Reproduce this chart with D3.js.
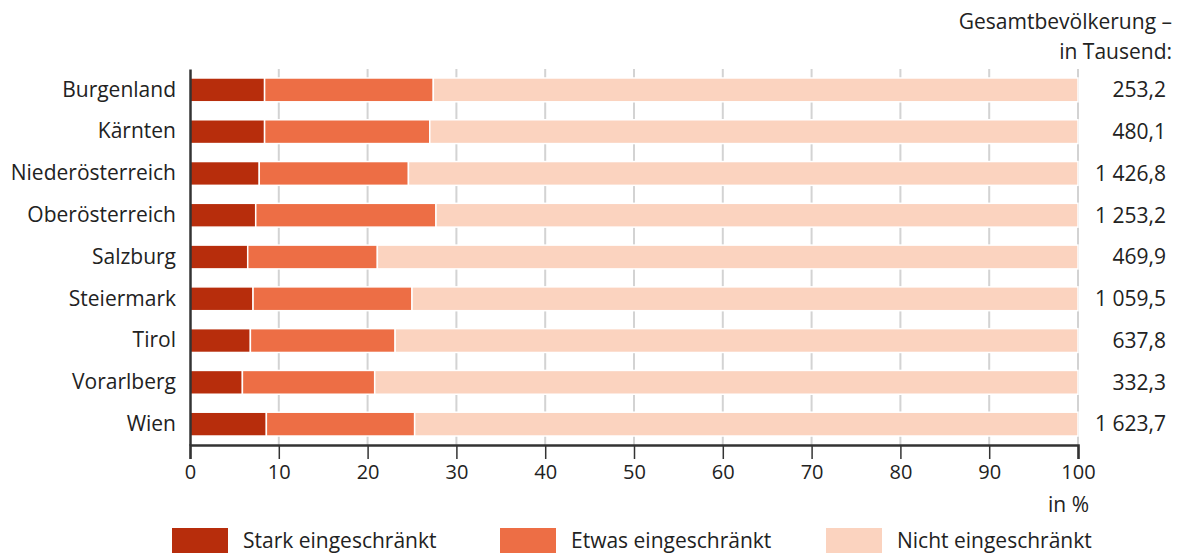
<!DOCTYPE html>
<html>
<head>
<meta charset="utf-8">
<script src="https://cdn.jsdelivr.net/npm/d3@7"></script>
<style>
  body { margin: 0; background: #fff; }
  text { font-family: "Open Sans", sans-serif; fill: #222; }
</style>
</head>
<body>
<div class="chart"></div>
<script>
const svgWidth = 1181;
const svgHeight = 555;
const fontSize = 21;

// data
const regions = ["Burgenland", "Kärnten", "Niederösterreich", "Oberösterreich",
  "Salzburg", "Steiermark", "Tirol", "Vorarlberg", "Wien"];
const stark = [8.4, 8.4, 7.8, 7.4, 6.5, 7.1, 6.8, 5.9, 8.6];
const etwas = [19.0, 18.6, 16.8, 20.3, 14.6, 17.9, 16.3, 14.9, 16.7];
const nicht = [72.6, 73.0, 75.4, 72.3, 78.9, 75.0, 76.9, 79.2, 74.7];
const population = ["253,2", "480,1", "1 426,8", "1 253,2", "469,9",
  "1 059,5", "637,8", "332,3", "1 623,7"];
const seriesNames = ["Stark eingeschränkt", "Etwas eingeschränkt", "Nicht eingeschränkt"];
const colors = ["#b72d0c", "#ed6e45", "#fbd3bf"];
const xTicks = [0, 10, 20, 30, 40, 50, 60, 70, 80, 90, 100];

const svg = d3.select(".chart")
  .append("svg")
  .attr("width", svgWidth)
  .attr("height", svgHeight);

// scales
const xScale = d3.scaleLinear()
  .domain([0, 100])
  .range([190, 1078]);

const yScale = d3.scaleBand()
  .domain(regions)
  .range([69, 445])
  .paddingInner(0.43)
  .paddingOuter(0.215);

// grid lines
svg.append("g")
  .selectAll("line")
  .data(xTicks.slice(1))
  .enter()
  .append("line")
  .attr("x1", d => xScale(d))
  .attr("x2", d => xScale(d))
  .attr("y1", 69)
  .attr("y2", 445)
  .attr("stroke", "#d3d3d3")
  .attr("stroke-width", 2);

// stacked bars
const rows = regions.map((r, i) => ({ region: r, values: [stark[i], etwas[i], nicht[i]] }));
const stack = d3.stack().keys([0, 1, 2]).value((d, k) => d.values[k]);
const stacked = stack(rows);

svg.append("g")
  .selectAll("g")
  .data(stacked)
  .enter()
  .append("g")
  .attr("fill", (d, i) => colors[i])
  .selectAll("rect")
  .data(d => d)
  .enter()
  .append("rect")
  .attr("x", d => xScale(d[0]))
  .attr("y", d => yScale(d.data.region))
  .attr("width", d => xScale(d[1]) - xScale(d[0]))
  .attr("height", yScale.bandwidth())
  .attr("stroke", "#fff")
  .attr("stroke-width", 1.5);

// x axis
const xAxis = d3.axisBottom(xScale)
  .tickValues(xTicks)
  .tickSize(14)
  .tickPadding(6);

const xAxisGroup = svg.append("g")
  .attr("transform", "translate(0,445)")
  .call(xAxis);
xAxisGroup.select(".domain").attr("stroke", "#333").attr("stroke-width", 2.5);
xAxisGroup.selectAll(".tick line").attr("stroke", "#333").attr("stroke-width", 1.5);
xAxisGroup.selectAll(".tick text")
  .attr("font-size", 20)
  .attr("font-family", "'Liberation Sans Narrow', 'Open Sans', sans-serif")
  .attr("fill", "#222");

// y axis
const yAxis = d3.axisLeft(yScale).tickSize(0).tickPadding(14);
const yAxisGroup = svg.append("g")
  .attr("transform", "translate(190,0)")
  .call(yAxis);
yAxisGroup.select(".domain").attr("stroke", "#333").attr("stroke-width", 2.5);
yAxisGroup.selectAll(".tick text")
  .attr("font-size", fontSize)
  .attr("font-family", "'Open Sans', sans-serif")
  .attr("fill", "#222");

// population values
svg.append("g")
  .selectAll("text")
  .data(regions)
  .enter()
  .append("text")
  .attr("x", 1166)
  .attr("y", d => yScale(d) + yScale.bandwidth() / 2)
  .attr("dy", "0.35em")
  .attr("text-anchor", "end")
  .attr("font-size", fontSize)
  .text((d, i) => population[i]);

// header
svg.append("text")
  .attr("x", 1172).attr("y", 29)
  .attr("text-anchor", "end").attr("font-size", fontSize)
  .text("Gesamtbevölkerung –");
svg.append("text")
  .attr("x", 1172).attr("y", 59)
  .attr("text-anchor", "end").attr("font-size", fontSize)
  .text("in Tausend:");

// unit
svg.append("text")
  .attr("x", 1089).attr("y", 512)
  .attr("text-anchor", "end").attr("font-size", fontSize)
  .text("in %");

// legend
const legendX = [172, 500, 826];
const legend = svg.append("g")
  .selectAll("g")
  .data(seriesNames)
  .enter()
  .append("g")
  .attr("transform", (d, i) => `translate(${legendX[i]}, 528)`);

legend.append("rect")
  .attr("width", 56)
  .attr("height", 25)
  .attr("fill", (d, i) => colors[i]);

legend.append("text")
  .attr("x", 71)
  .attr("y", 13)
  .attr("dy", "0.35em")
  .attr("font-size", fontSize)
  .text(d => d);
</script>
</body>
</html>
